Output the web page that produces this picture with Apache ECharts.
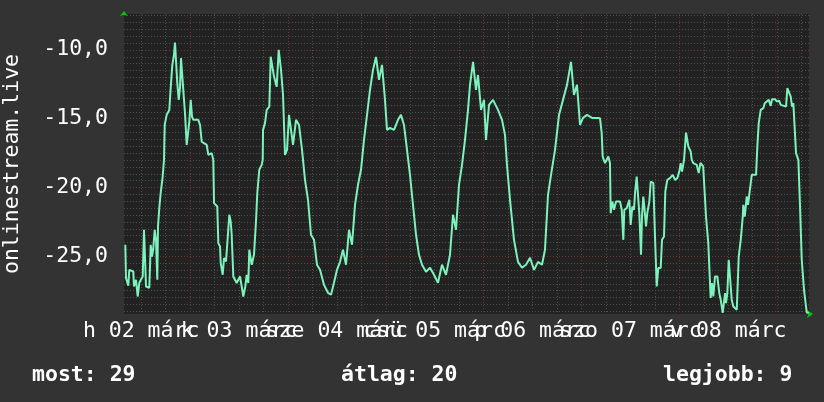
<!DOCTYPE html>
<html><head><meta charset="utf-8">
<script src="https://cdn.jsdelivr.net/npm/echarts@6/dist/echarts.min.js"></script>
<style>html,body{margin:0;padding:0;background:#333333;}#c{width:824px;height:402px;}</style>
</head><body><div id="c"></div>
<script>
// hours since 02 márc 00:00
const times = [8.12,8.29,8.85,9.10,10.08,10.25,10.74,11.16,11.55,12.39,12.71,13.02,13.20,14.01,14.35,14.67,14.99,15.33,15.65,15.97,16.14,16.46,16.80,17.29,17.61,17.78,18.27,18.91,19.25,19.65,20.06,20.31,20.55,20.87,21.22,21.53,21.78,22.03,22.34,22.76,23.01,23.18,23.57,23.82,24.16,24.48,24.80,26.02,26.44,26.86,27.42,28.08,28.48,28.89,29.31,29.70,29.88,30.68,30.93,31.35,31.52,32.01,32.33,32.82,33.31,33.63,33.97,34.21,34.61,35.10,35.44,35.83,36.25,36.67,37.06,37.55,37.89,38.29,38.53,39.12,39.68,40.17,40.49,40.98,41.57,41.82,41.90,42.38,42.80,43.44,43.78,44.27,44.59,45.25,45.74,
46.31,46.80,47.29,47.78,48.27,48.76,49.25,49.99,50.72,51.46,52.19,52.93,53.66,54.40,55.13,55.87,56.85,57.83,58.57,59.30,60.04,60.78,61.51,62.25,62.98,63.72,64.46,65.19,65.93,66.66,67.40,68.13,68.87,69.61,70.34,71.08,71.81,72.30,73.04,74.02,75.00,75.74,76.47,77.21,77.94,78.68,79.42,80.15,80.89,81.87,82.85,83.83,84.81,85.79,86.77,87.75,88.49,89.23,89.96,90.70,91.43,92.17,92.66,93.40,94.13,94.62,95.36,96.09,96.58,97.32,98.30,99.53,100.51,101.24,101.73,102.47,103.45,104.43,105.41,106.39,107.38,108.36,109.34,110.32,111.05,111.79,112.53,113.51,114.49,115.47,116.45,117.43,118.16,118.90,119.64,120.37,121.36,122.58,123.81,
124.54,124.96,125.20,125.77,126.58,126.99,127.16,127.56,127.98,128.47,129.45,129.87,130.26,130.50,131.09,131.73,132.07,132.47,132.88,133.13,133.54,133.94,134.18,134.60,134.84,135.16,135.41,135.83,136.14,136.64,136.98,137.62,138.03,138.45,138.84,139.43,139.75,140.24,140.56,141.05,141.71,142.37,142.94,143.50,143.99,144.33,144.66,145.15,145.64,145.96,146.20,146.79,147.04,147.43,148.26,148.75,149.17,149.85,150.54,151.10,151.52,151.69,152.01,152.33,152.75,153.31,153.80,154.15,154.64,154.96,155.21,155.45,155.77,156.11,156.43,156.85,157.24,158.08,158.40,158.57,159.06,159.55,159.70,160.04,160.29,160.53,160.85,161.34,161.76,162.81,162.98,163.13,163.47,163.96,164.60,164.94,165.43,165.92,166.41,166.73,167.47,167.89,168.45,168.87,169.36,170.17,170.49,170.98,171.32,171.64,171.96,172.38,172.62,173.19,173.60,174.02,174.58,175.07,175.24,175.73];
const ranks = [-24.16,-26.58,-27.14,-25.98,-26.10,-27.19,-26.70,-27.92,-26.92,-26.46,-23.07,-23.07,-27.19,-27.28,-24.16,-25.01,-24.38,-23.07,-23.80,-26.70,-22.83,-21.47,-20.38,-19.20,-17.99,-15.45,-14.72,-14.36,-12.78,-11.09,-10.36,-9.47,-9.47,-12.42,-13.63,-12.78,-10.60,-10.60,-12.90,-14.60,-14.60,-16.90,-16.90,-15.21,-13.63,-14.84,-15.08,-15.08,-15.45,-16.66,-16.78,-16.90,-17.63,-17.75,-17.50,-17.99,-21.13,-21.38,-24.04,-24.28,-25.49,-26.34,-25.13,-25.37,-25.49,-21.98,-22.47,-23.43,-26.46,-26.58,-26.94,-26.70,-26.46,-27.19,-27.92,-27.19,-26.34,-26.94,-24.52,-25.61,-24.89,-22.47,-20.41,-18.71,-18.35,-17.99,-15.81,-15.32,-14.36,-14.12,-10.49,-10.49,-11.94,-12.67,-10.00,
-11.45,-13.27,-17.63,-17.26,-14.72,-15.81,-16.90,-15.08,-15.45,-17.26,-19.44,-20.89,-23.43,-23.80,-25.61,-25.98,-27.07,-27.65,-27.79,-26.92,-25.98,-25.40,-24.52,-25.61,-23.07,-24.16,-21.26,-19.80,-18.71,-16.54,-14.72,-12.90,-11.45,-10.51,-12.18,-11.09,-13.63,-15.81,-15.66,-15.81,-15.08,-14.72,-15.45,-17.26,-19.08,-21.26,-23.43,-24.89,-25.61,-26.12,-25.83,-26.34,-26.92,-25.61,-26.34,-24.89,-21.98,-23.07,-19.80,-18.35,-16.54,-14.36,-12.54,-10.87,-12.90,-11.82,-14.36,-13.63,-16.54,-13.99,-13.63,-14.36,-15.08,-16.17,-18.35,-20.89,-23.80,-25.40,-25.83,-25.61,-25.10,-25.98,-25.40,-25.61,-24.52,-20.53,-19.08,-17.26,-14.72,-13.63,-12.54,-10.87,-13.27,-12.54,-15.45,-14.94,-14.72,-14.94,-14.94,
-14.96,-16.05,-17.75,-18.23,-17.75,-18.23,-21.86,-21.02,-21.62,-21.02,-21.02,-21.62,-23.80,-21.62,-21.50,-20.89,-22.71,-21.38,-21.62,-20.41,-19.20,-19.20,-21.86,-24.89,-22.11,-20.65,-21.38,-22.83,-21.86,-21.02,-19.56,-19.68,-23.56,-27.19,-25.85,-25.85,-23.80,-23.56,-20.29,-19.44,-19.32,-19.08,-19.44,-19.32,-18.84,-18.23,-18.84,-17.99,-16.01,-16.01,-17.02,-17.39,-17.99,-18.23,-18.35,-18.95,-18.21,-18.47,-22.11,-24.04,-26.94,-28.03,-26.94,-27.92,-26.46,-26.46,-27.67,-28.16,-29.10,-29.10,-27.67,-28.40,-27.67,-25.25,-25.25,-28.16,-28.64,-28.88,-28.88,-25.01,-23.80,-22.11,-21.26,-22.11,-21.38,-20.65,-21.26,-21.38,-19.08,-19.08,-17.99,-17.02,-15.32,-14.36,-14.23,-13.87,-13.83,-13.63,-14.07,-13.58,-13.58,-13.75,-13.68,-13.99,-14.12,-14.12,-12.78,-12.78,-13.39,-14.12,-13.87,-13.87,-17.50,-17.99,-21.38,-25.25,-27.43,-27.43,-29.08,-29.12];

const dayLabels = ["h 02 márc","k 03 márc","sze 04 márc","csü 05 márc","p 06 márc","szo 07 márc","v 08 márc"];
const dayLabelHours = [12,36,60,84,108,132,156];
const yLabelValues = [-25,-20,-15,-10];
const axisTitle = "onlinestream.live";
const statNames = ["most","átlag","legjobb"];
const statValues = [29,20,9];

const xMin = 7.8, xMax = 175.8, yMin = -29.19, yMax = -7.39;
const xGrid = [];
for (let h = 12; h < xMax; h += 6) xGrid.push(h);
const yGrid = [];
for (let k = -58; k <= -15; k++) yGrid.push(k / 2);
const G = '#4e4e4e', R = '#703434';
const xGridColors = [G, G, R, G];
const yGridColors = [G, G, G, G, G, G, G, G, R, G];
// blank placeholder labels at the axis ends so that no real day label is dropped
const xLabelValues = [xMin].concat(dayLabelHours, [xMax]);

const FONT = '"DejaVu Sans Mono", monospace';
const txt = {color:'#ffffff', fontFamily: FONT, fontSize: 21.5};
const chart = echarts.init(document.getElementById('c'), null, {renderer:'canvas'});
chart.setOption({
  backgroundColor: '#333333',
  animation: false,
  title: [
    {text: statNames[0] + ': ' + statValues[0], left: 32, top: 364, padding: 0, textStyle: txt},
    {text: statNames[1] + ': ' + statValues[1], left: 341, top: 364, padding: 0, textStyle: txt},
    {text: statNames[2] + ': ' + statValues[2], left: 663, top: 364, padding: 0, textStyle: txt}
  ],
  grid: {left: 124, top: 14, width: 685, height: 300, show: true, backgroundColor: '#222222', borderWidth: 0,
         containLabel: false, outerBoundsMode: 'none'},
  xAxis: {type:'value', min:xMin, max:xMax,
     axisLine:{show:true, symbol:['none','arrow'], symbolSize:[6,6], symbolOffset:[0,4], lineStyle:{color:'#00cc00', width:0}},
     axisTick:{show:false, customValues:xGrid},
     axisLabel:{show:true, customValues:xLabelValues, hideOverlap:false, margin:6,
                formatter:v=>{ const i=(v-12)/24; return (Math.abs(i-Math.round(i))<1e-6 && dayLabels[Math.round(i)]) || ' '; }, ...txt},
     splitLine:{show:true, lineStyle:{color:xGridColors, type:[1,2], width:1}}},
  yAxis: {type:'value', min:yMin, max:yMax, name: axisTitle, nameLocation:'middle', nameRotate:90, nameGap:101,
     nameMoveOverlap:false, nameTextStyle: txt,
     axisLine:{show:true, symbol:['none','arrow'], symbolSize:[6,5], symbolOffset:[0,3], lineStyle:{color:'#00cc00', width:0}},
     axisTick:{show:false, customValues:yGrid},
     axisLabel:{show:true, customValues:yLabelValues, hideOverlap:false, margin:16, padding:[6,0,0,0],
                formatter:v=>v.toFixed(1).replace('.',','), ...txt},
     splitLine:{show:true, lineStyle:{color:yGridColors, type:[1,2], width:1}}},
  series: [{
    type:'line', showSymbol:false, z:10,
    lineStyle:{color:'#7df2bc', width:2},
    data: times.map((t,i)=>[t, ranks[i]])
  }]
});
</script></body></html>
